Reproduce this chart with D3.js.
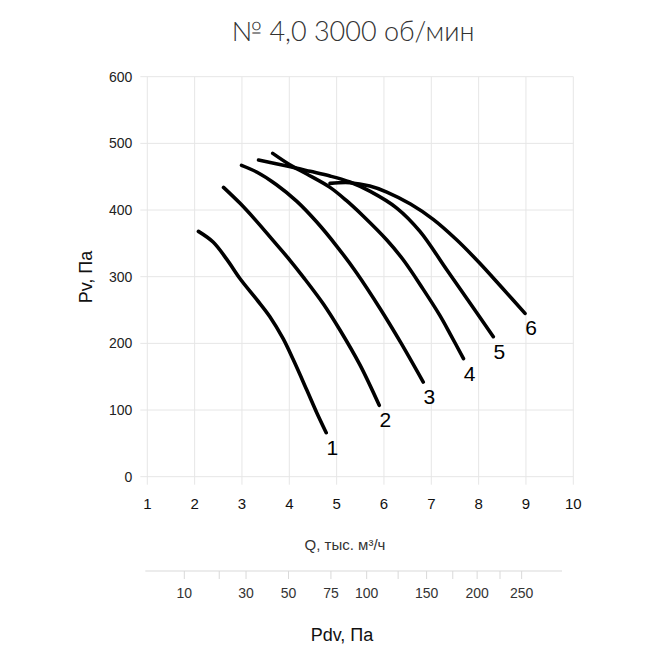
<!DOCTYPE html>
<html>
<head>
<meta charset="utf-8">
<script src="https://cdn.jsdelivr.net/npm/d3@7.9.0/dist/d3.min.js"></script>
<style>
  body { margin: 0; background: #fff; }
  svg { display: block; font-family: "Liberation Sans", Arial, sans-serif; }
  .grid line { stroke: #e6e6e6; stroke-width: 1; }
</style>
</head>
<body>
<div id="chart"></div>
<script>
// Q, тыс. м3/ч  and  Pv, Па
const curveNames = ['1', '2', '3', '4', '5', '6'];
const curve1 = [[2.08, 368], [2.39, 352], [2.68, 326], [2.96, 297], [3.31, 266], [3.59, 240], [3.87, 207], [4.08, 176], [4.37, 130], [4.58, 96], [4.78, 66]];
const curve2 = [[2.61, 434], [2.96, 410], [3.31, 383], [3.66, 354], [4.01, 325], [4.30, 299], [4.72, 259], [5.07, 220], [5.49, 168], [5.90, 107]];
const curve3 = [[2.99, 467], [3.31, 457], [3.73, 438], [4.16, 413], [4.58, 382], [5.00, 346], [5.42, 306], [5.92, 252], [6.34, 203], [6.83, 142]];
const curve4 = [[3.65, 485], [4.01, 468], [4.37, 454], [4.86, 434], [5.21, 414], [5.56, 391], [6.06, 355], [6.41, 325], [6.83, 281], [7.18, 242], [7.40, 214], [7.68, 177]];
const curve5 = [[3.35, 475], [3.95, 466], [4.44, 458], [4.86, 451], [5.28, 442], [5.71, 428], [6.27, 403], [6.76, 368], [7.33, 310], [7.89, 253], [8.31, 210]];
const curve6 = [[4.86, 440], [5.28, 441], [5.70, 436], [6.06, 427], [6.56, 409], [7.04, 386], [7.54, 355], [8.00, 322], [8.50, 283], [8.98, 245]];
const curves = [curve1, curve2, curve3, curve4, curve5, curve6];

const qTicks = [1, 2, 3, 4, 5, 6, 7, 8, 9, 10];
const pvTicks = [0, 100, 200, 300, 400, 500, 600];
const pdvTicks = [10, 20, 30, 50, 75, 100, 125, 150, 175, 200, 225, 250];
const pdvLabels = [10, 30, 50, 75, 100, 150, 200, 250];
const pdvPerQ2 = 3.15; // Pdv = k * Q^2

const title = '№ 4,0 3000 об/мин';
const xTitle = 'Q, тыс. м³/ч';
const yTitle = 'Pv, Па';
const pdvTitle = 'Pdv, Па';

const width = 660, height = 660;
const plot = { left: 147.3, right: 573.3, top: 76.7, bottom: 476.7 };

const xScale = d3.scaleLinear().domain([1, 10]).range([plot.left, plot.right]);
const yScale = d3.scaleLinear().domain([0, 600]).range([plot.bottom, plot.top]);
// dynamic pressure grows with Q^2, so its axis is a sqrt scale on the same pixels
const pdvScale = d3.scaleSqrt()
    .domain([0, pdvPerQ2 * 100])
    .range([xScale(0), xScale(10)]);

const svg = d3.select('#chart').append('svg')
    .attr('width', width)
    .attr('height', height);

// title
svg.append('text')
    .attr('x', 353).attr('y', 41)
    .attr('text-anchor', 'middle')
    .style('font-family', 'Lato, "Noto Sans", sans-serif')
    .style('font-weight', 300)
    .style('font-size', '27px')
    .style('fill', '#333')
    .text(title);

// grid
const grid = svg.append('g').attr('class', 'grid');
grid.selectAll('line.v')
    .data(qTicks)
    .join('line')
    .attr('class', 'v')
    .attr('x1', d => xScale(d)).attr('x2', d => xScale(d))
    .attr('y1', yScale(600)).attr('y2', yScale(0) + 8);
grid.selectAll('line.h')
    .data(pvTicks)
    .join('line')
    .attr('class', 'h')
    .attr('x1', xScale(1) - 7).attr('x2', xScale(10))
    .attr('y1', d => yScale(d)).attr('y2', d => yScale(d));

// y tick labels
svg.append('g')
    .selectAll('text')
    .data(pvTicks)
    .join('text')
    .attr('x', xScale(1) - 15)
    .attr('y', d => yScale(d))
    .attr('dy', '0.35em')
    .attr('text-anchor', 'end')
    .style('font-size', '14px')
    .style('fill', '#222')
    .text(d => d);

// x tick labels
svg.append('g')
    .selectAll('text')
    .data(qTicks)
    .join('text')
    .attr('x', d => xScale(d))
    .attr('y', 509)
    .attr('text-anchor', 'middle')
    .style('font-size', '15px')
    .style('fill', '#111')
    .text(d => d);

svg.append('text')
    .attr('x', 345).attr('y', 550)
    .attr('text-anchor', 'middle')
    .style('font-size', '15px')
    .style('fill', '#333')
    .text(xTitle);

svg.append('text')
    .attr('transform', 'translate(92, 277) rotate(-90)')
    .attr('text-anchor', 'middle')
    .style('font-size', '18px')
    .style('fill', '#111')
    .text(yTitle);

// secondary Pdv axis
const pdvAxis = svg.append('g');
pdvAxis.append('line')
    .attr('x1', xScale(1) - 2).attr('x2', 562)
    .attr('y1', 571).attr('y2', 571)
    .style('stroke', '#d9d9d9');
pdvAxis.selectAll('line.tick')
    .data(pdvTicks)
    .join('line')
    .attr('class', 'tick')
    .attr('x1', d => pdvScale(d)).attr('x2', d => pdvScale(d))
    .attr('y1', 571).attr('y2', 579)
    .style('stroke', '#d9d9d9');
pdvAxis.selectAll('text')
    .data(pdvLabels)
    .join('text')
    .attr('x', d => pdvScale(d))
    .attr('y', 598)
    .attr('text-anchor', 'middle')
    .style('font-size', '14px')
    .style('fill', '#333')
    .text(d => d);

svg.append('text')
    .attr('x', 342).attr('y', 641)
    .attr('text-anchor', 'middle')
    .style('font-size', '18px')
    .style('fill', '#111')
    .text(pdvTitle);

// fan curves
const line = d3.line()
    .x(d => xScale(d[0]))
    .y(d => yScale(d[1]))
    .curve(d3.curveCatmullRom.alpha(0.5));

svg.append('g')
    .selectAll('path')
    .data(curves)
    .join('path')
    .attr('d', line)
    .attr('fill', 'none')
    .attr('stroke', '#000')
    .attr('stroke-width', 3.6)
    .attr('stroke-linecap', 'round')
    .attr('stroke-linejoin', 'round');

svg.append('g')
    .selectAll('text')
    .data(curves)
    .join('text')
    .attr('x', d => xScale(d[d.length - 1][0]) + 6)
    .attr('y', d => yScale(d[d.length - 1][1]) + 22)
    .attr('text-anchor', 'middle')
    .style('font-size', '21px')
    .style('fill', '#000')
    .text((d, i) => curveNames[i]);
</script>
</body>
</html>
